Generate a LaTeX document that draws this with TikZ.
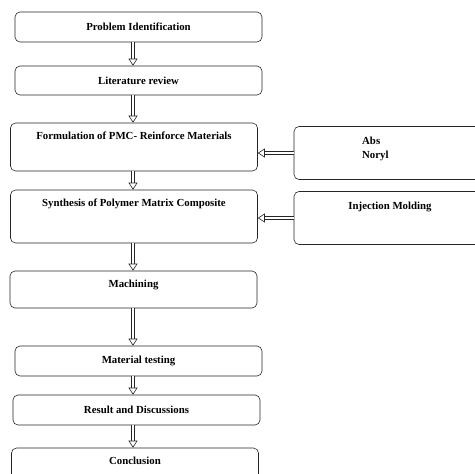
\documentclass[tikz,border=0pt]{standalone}
\usepackage{fontspec}
\setmainfont{Liberation Serif}
\usetikzlibrary{arrows.meta}

\tikzset{
  box/.style={draw=black!85, line width=0.6pt, rounded corners=5pt, minimum width=247pt, inner sep=0pt},
  sidebox/.style={box, minimum width=190pt, minimum height=53pt},
  txt/.style={font=\fontsize{10.8}{14}\selectfont\bfseries, inner sep=0pt},
  arr/.style={draw=black!85, line width=0.7pt, double, double distance=2.4pt, -{Triangle[open, length=7pt, width=9pt, line width=0.6pt]}}
}

\begin{document}
\begin{tikzpicture}[x=1pt, y=-1pt]
\useasboundingbox (0,0) rectangle (475,474);

\node[box, minimum height=30pt, txt] (prob) at (138.5,27) {Problem Identification};
\node[box, minimum height=29pt, txt] (lit) at (138.5,80.5) {Literature review};
\node[box, minimum height=48pt] (form) at (134,147) {};
\node[txt] (formtxt) at (134,136) {Formulation of PMC- Reinforce Materials};
\node[box, minimum height=53pt] (syn) at (134,216.5) {};
\node[txt] (syntxt) at (134,204) {Synthesis of Polymer Matrix Composite};
\node[box, minimum height=37pt] (mach) at (133.5,289.5) {};
\node[txt] (machtxt) at (133.5,285) {Machining};
\node[box, minimum height=30pt, txt] (test) at (138.5,361) {Material testing};
\node[box, minimum height=30pt, txt] (res) at (136.5,410) {Result and Discussions};
\node[box, minimum height=40pt] (conc) at (135,468) {};
\node[txt] (conctxt) at (135,461) {Conclusion};

% right hand inputs
\node[sidebox] (abs) at (389,153) {};
\node[txt, align=left, anchor=north west] (abstxt) at (362,136.5) {Abs\\Noryl};
\node[sidebox] (inj) at (389,218) {};
\node[txt] (injtxt) at (390,207) {Injection Molding};

\coordinate (ax) at (133,0);
\draw[arr] (prob.south -| ax) -- (lit.north -| ax);
\draw[arr] (lit.south -| ax) -- (form.north -| ax);
\draw[arr] (form.south -| ax) -- (syn.north -| ax);
\draw[arr] (syn.south -| ax) -- (mach.north -| ax);
\draw[arr] (mach.south -| ax) -- (test.north -| ax);
\draw[arr] (test.south -| ax) -- (res.north -| ax);
\draw[arr] (res.south -| ax) -- (conc.north -| ax);

\draw[arr] (abs.west) -- (abs.west -| form.east);
\draw[arr] (inj.west) -- (inj.west -| syn.east);
\end{tikzpicture}
\end{document}
